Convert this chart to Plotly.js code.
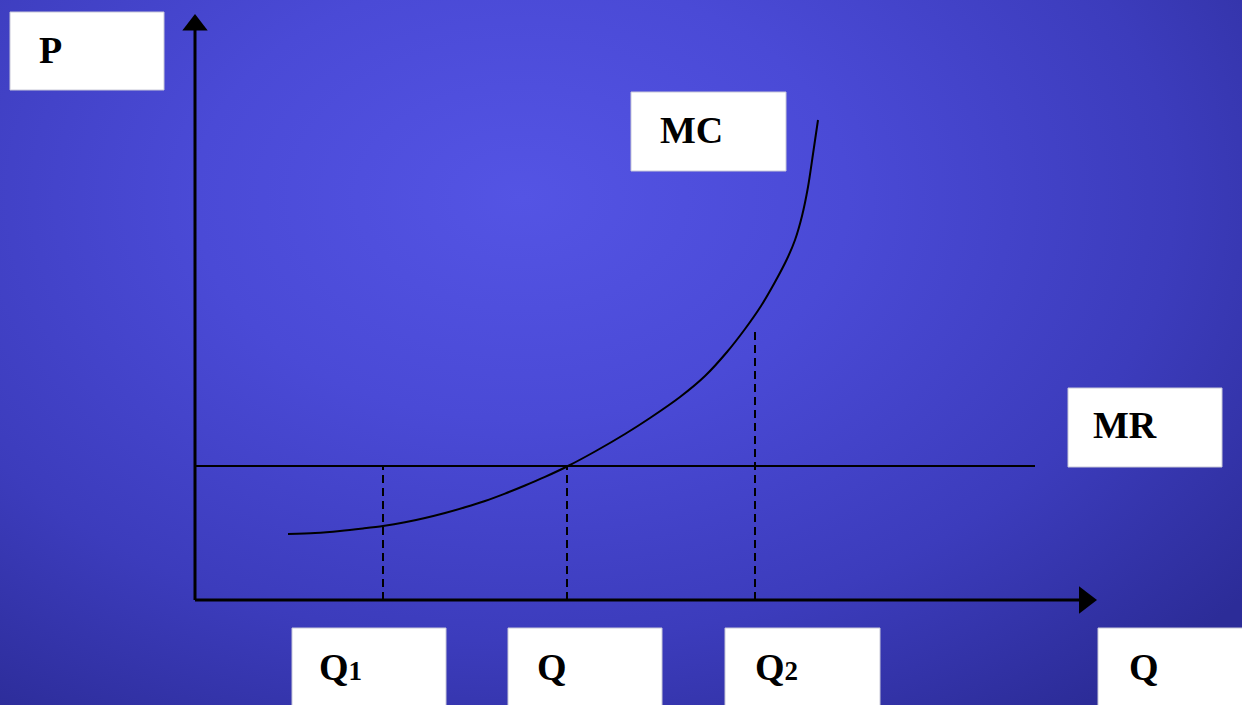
<!DOCTYPE html>
<html>
<head>
<meta charset="utf-8">
<script src="https://cdn.plot.ly/plotly-3.0.1.min.js"></script>
<style>
  html, body { margin: 0; padding: 0; }
  #chart {
    width: 1242px; height: 705px;
    background: radial-gradient(ellipse 75% 90% at 42% 28%, #5454e4 0%, #4a4ad6 35%, #3c3cbc 70%, #2c2c98 100%);
  }
</style>
</head>
<body>
<div id="chart"></div>
<script>
// ---- data (Q = quantity, P = price, arbitrary units) ----
const mcQ = [9.3, 12, 14.5, 16.8, 18.8, 21, 23, 25, 27, 29, 31, 33, 35, 37.3, 40, 43, 45.5, 48.5, 51, 53.2, 55, 56.6, 58.0, 59.2, 60.0, 60.7, 61.3, 61.8, 62.3];
const mcP = [6.6, 6.7, 6.9, 7.15, 7.4, 7.77, 8.2, 8.7, 9.27, 9.9, 10.64, 11.45, 12.31, 13.4, 14.85, 16.6, 18.2, 20.3, 22.4, 24.8, 27.1, 29.4, 31.8, 34.1, 36.0, 38.4, 41.3, 44.6, 48.0];
const mrQ = [0, 84];
const mrP = [13.4, 13.4];
const dashQ = [18.8, 37.2, 56.0];
const dashTop = [13.4, 13.4, 27.0];
const axisTopP = 57.5;
const axisEndQ = 89;
const boxLabels = ["P", "MC", "MR", "Q<span style='font-size:27px'>1</span>", "Q", "Q<span style='font-size:27px'>2</span>", "Q"];

// ---- geometry helpers ----
const W = 1242, H = 705;
const px = x => x / W;
const py = y => 1 - y / H;

const traces = [];
// axes
traces.push({x: [0, 0], y: [0, axisTopP], mode: 'lines', line: {color: '#000', width: 3}, hoverinfo: 'skip'});
traces.push({x: [0, axisEndQ], y: [0, 0], mode: 'lines', line: {color: '#000', width: 3}, hoverinfo: 'skip'});
traces.push({x: [0], y: [axisTopP], mode: 'markers', marker: {symbol: 'triangle-up', size: 22, color: '#000', line: {width: 0}}, hoverinfo: 'skip'});
traces.push({x: [axisEndQ], y: [0], mode: 'markers', marker: {symbol: 'triangle-right', size: 24, color: '#000', line: {width: 0}}, hoverinfo: 'skip'});
// MR
traces.push({x: mrQ, y: mrP, mode: 'lines', line: {color: '#000', width: 2}, hoverinfo: 'skip'});
// MC
traces.push({x: mcQ, y: mcP, mode: 'lines', line: {color: '#000', width: 2, shape: 'spline', smoothing: 0.8}, hoverinfo: 'skip'});
// dashed verticals
dashQ.forEach((q, i) => {
  traces.push({x: [q, q], y: [0, dashTop[i]], mode: 'lines', line: {color: '#000', width: 2, dash: '8px,5px'}, hoverinfo: 'skip'});
});

// label boxes: [left, top, right, bottom, textLeft, textCenterY] in pixels
const boxGeom = [
  [10, 12, 164, 90, 37, 50],
  [631, 92, 786, 171, 658, 130],
  [1068, 388, 1222, 467, 1091, 425],
  [292, 628, 446, 712, 317, 667],
  [508, 628, 662, 712, 535, 667],
  [725, 628, 880, 712, 753, 667],
  [1098, 628, 1250, 712, 1127, 667]
];
const shapes = boxGeom.map(b => ({
  type: 'rect', xref: 'paper', yref: 'paper',
  x0: px(b[0]), x1: px(b[2]), y0: py(b[3]), y1: py(b[1]),
  fillcolor: '#ffffff', line: {color: '#c8c8d8', width: 1}, layer: 'below'
}));
const annotations = boxGeom.map((b, i) => ({
  xref: 'paper', yref: 'paper', x: px(b[4]), y: py(b[5]),
  xanchor: 'left', yanchor: 'middle', showarrow: false,
  text: '<b>' + boxLabels[i] + '</b>',
  font: {family: 'Liberation Serif, Times New Roman, serif', size: 38, color: '#000'}
}));

const layout = {
  width: W, height: H,
  margin: {l: 0, r: 0, t: 0, b: 0},
  paper_bgcolor: 'rgba(0,0,0,0)', plot_bgcolor: 'rgba(0,0,0,0)',
  showlegend: false,
  xaxis: {range: [-19.5, 104.7], visible: false, fixedrange: true},
  yaxis: {range: [-10.5, 60], visible: false, fixedrange: true},
  shapes: shapes,
  annotations: annotations
};
Plotly.newPlot('chart', traces, layout, {displayModeBar: false, staticPlot: true});
</script>
</body>
</html>
